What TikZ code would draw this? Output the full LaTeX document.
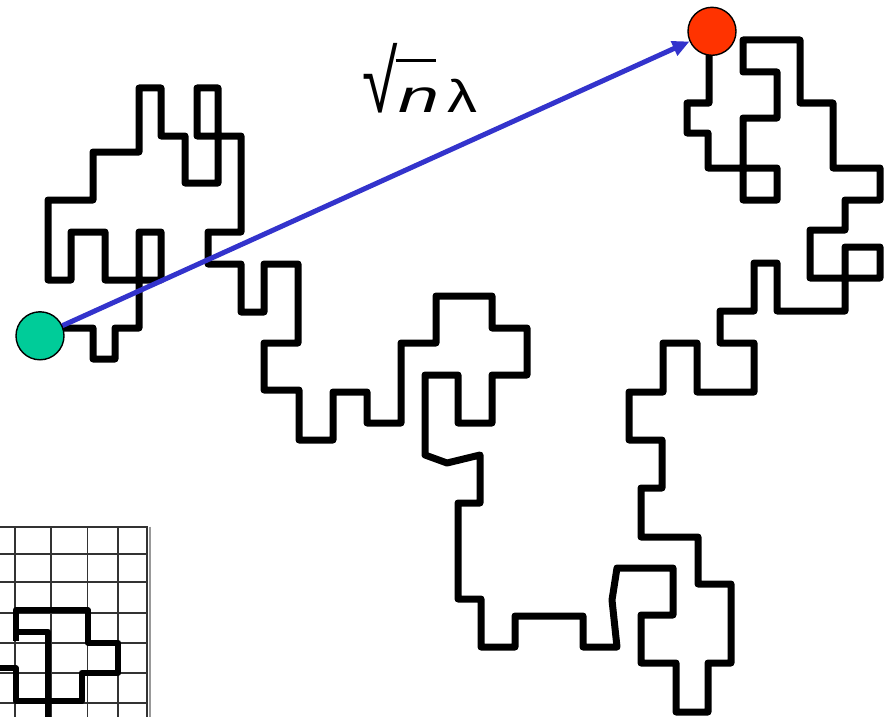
\documentclass[tikz,border=0pt]{standalone}
\usepackage{fontspec}
\setmainfont{Liberation Sans}
\usepackage{graphicx}
\usepackage{xcolor}
\usepackage{tikz}
\usetikzlibrary{arrows.meta}

\definecolor{startgreen}{RGB}{0,204,153}
\definecolor{endred}{RGB}{255,51,0}
\definecolor{arrowblue}{RGB}{51,51,204}

\begin{document}
\begin{tikzpicture}[x=1pt,y=-1pt,>={Triangle[length=17pt,width=15pt]},
  walk/.style={line width=7pt,line join=round},
  site/.style={circle,draw,line width=1.4pt,minimum size=48pt,inner sep=0pt},
  gridline/.style={line width=1.6pt,black!80}]
  \useasboundingbox (0,0) rectangle (884,717);
  % lattice inset
  \foreach \gx in {15,51,87.3,117.7}
    \draw[gridline] (\gx,526.7) -- (\gx,717);
  \foreach \gy in {554,581.7,612.7,642.7,672.7,703}
    \draw[gridline] (0,\gy) -- (146.7,\gy);
  \draw[gridline] (0,526.7) -- (146.7,526.7) -- (146.7,717);
  \draw[black!40,line width=1.5pt] (150,526.7) -- (150,717);
  \draw[walk,line width=6pt] (0,668) -- (15.7,668) -- (15.7,701) -- (81.7,701)
    -- (81.7,672.7) -- (118.3,672.7) -- (118.3,642.7) -- (87.7,642.7)
    -- (87.7,610) -- (15.7,610) -- (15.7,641);
  \draw[walk,line width=6pt] (15.7,631.7) -- (48.3,631.7) -- (48.3,717);
  % the walk
  \draw[walk] (40,328) -- (93,328) -- (93,359) -- (115,359) -- (115,328)
    -- (139,328) -- (139,232) -- (161,232) -- (161,280) -- (105,280)
    -- (105,232) -- (71,232) -- (71,280) -- (48,280) -- (48,200)
    -- (93,200) -- (93,152) -- (139,152) -- (139,88) -- (161,88)
    -- (161,136) -- (185,136) -- (185,183) -- (218,183) -- (218,88)
    -- (197,88) -- (197,136) -- (241,136) -- (241,232) -- (208,232)
    -- (208,264) -- (241,264) -- (241,312) -- (264,312) -- (264,264)
    -- (298,264) -- (298,343) -- (264,343) -- (264,390) -- (299,390)
    -- (299,440) -- (333,440) -- (333,392) -- (367,392) -- (367,423)
    -- (401,423) -- (401,343) -- (436,343) -- (436,296) -- (492,296)
    -- (492,328) -- (527,328) -- (527,375) -- (492,375) -- (492,423)
    -- (458,423) -- (458,375) -- (425,375) -- (425,455) -- (447,463)
    -- (480,455) -- (480,503) -- (458,503) -- (458,599) -- (481,599)
    -- (481,647) -- (515,647) -- (515,616) -- (583,616) -- (583,647)
    -- (617,647) -- (612,600) -- (617,568) -- (673,568) -- (673,615)
    -- (641,615) -- (641,663) -- (676,663) -- (676,712) -- (708,712)
    -- (708,663) -- (731,663) -- (731,584) -- (698,584) -- (698,537)
    -- (641,537) -- (641,488) -- (662,488) -- (662,440) -- (629,440)
    -- (629,392) -- (663,392) -- (663,343) -- (697,343) -- (697,392)
    -- (754,392) -- (754,343) -- (720,343) -- (720,311) -- (754,311)
    -- (754,263) -- (777,263) -- (777,311) -- (845,311) -- (845,247)
    -- (880,247) -- (880,278) -- (810,278) -- (810,230) -- (845,230)
    -- (845,200) -- (880,200) -- (880,168) -- (833,168) -- (833,103)
    -- (800,103) -- (800,40) -- (743,40) -- (743,72) -- (777,72)
    -- (777,118) -- (743,118) -- (743,200) -- (777,200) -- (777,168)
    -- (708,168) -- (708,133) -- (687,133) -- (687,103) -- (709,103)
    -- (709,32);
  \node[site,fill=startgreen] (start) at (40,335.8) {};
  \node[site,fill=endred] (end) at (712,31.3) {};
  \draw[->,line width=5pt,arrowblue] (start) -- (end);
  \node[anchor=base west,inner sep=0pt] (dist) at (362,112)
    {\fontsize{46}{46}\selectfont\scalebox{1.4}[1.9]{√}\kern-2pt%
     \rlap{\raisebox{50pt}{\rule{40pt}{3pt}}}\kern3pt%
     \scalebox{1.6}[1]{\textit{n}}\kern8pt\scalebox{1.3}[1]{λ}};
\end{tikzpicture}
\end{document}
